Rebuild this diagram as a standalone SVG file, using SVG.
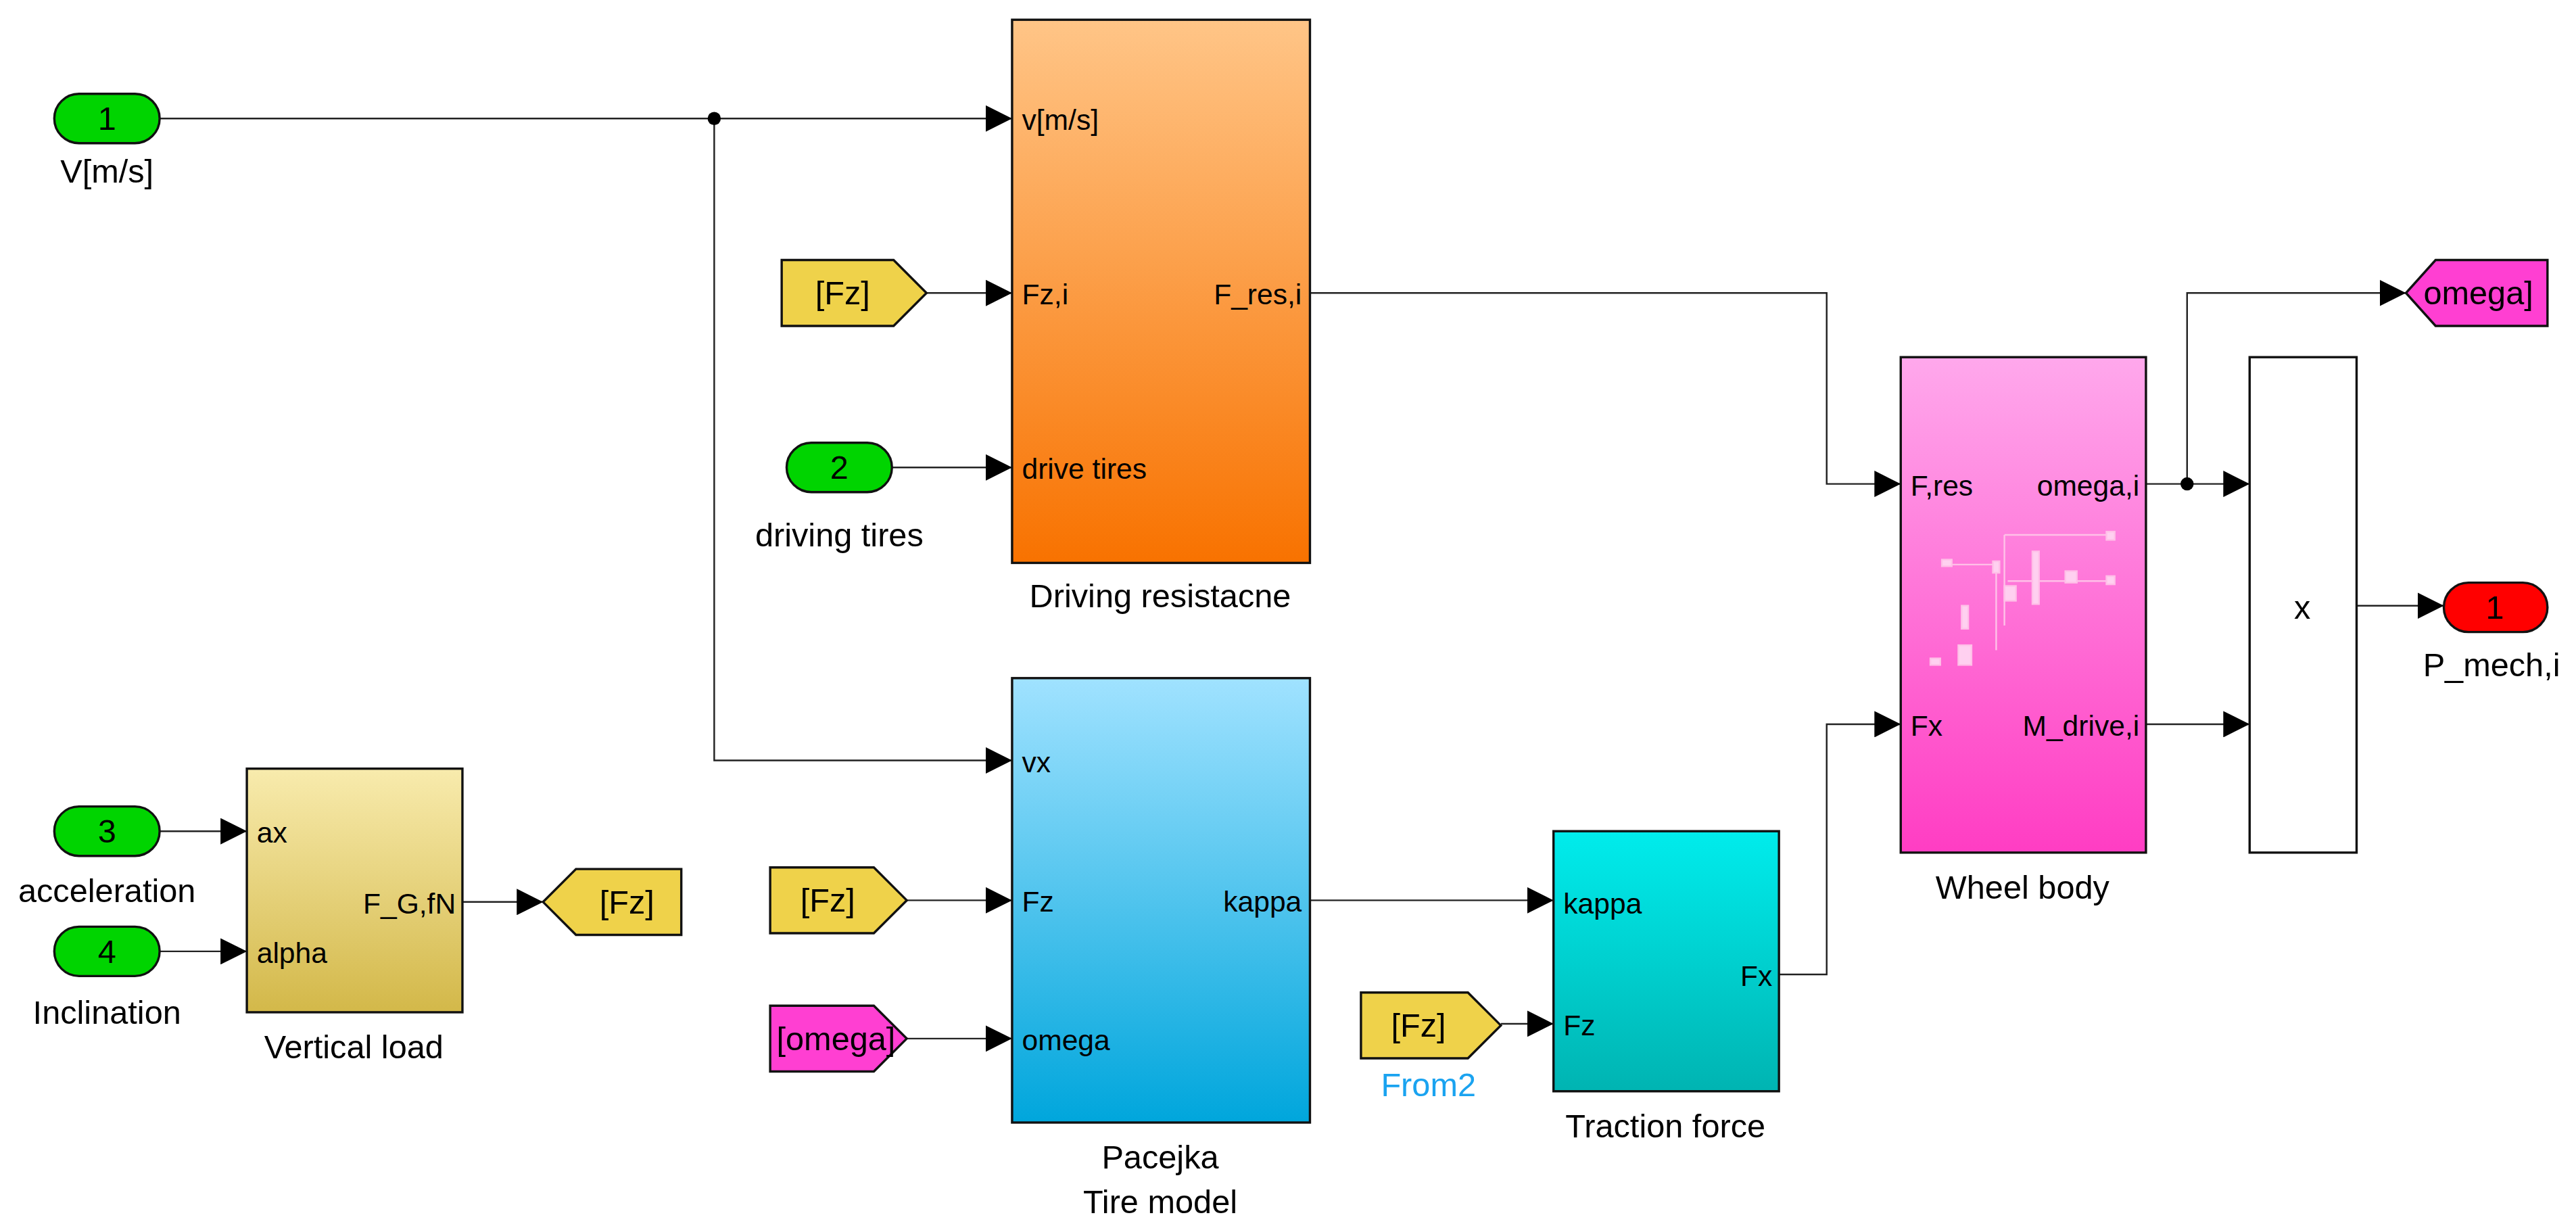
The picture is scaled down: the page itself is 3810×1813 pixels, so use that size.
<svg xmlns="http://www.w3.org/2000/svg" width="3810" height="1813" viewBox="0 0 3810 1813">
<defs>
<style>
text{font-family:"Liberation Sans",Arial,sans-serif;font-size:17.5px;fill:#000}
.n{font-size:20px}
.blk{stroke:#111;stroke-width:1.4}
.w{fill:none;stroke:#222;stroke-width:1}
.c{text-anchor:middle}
.e{text-anchor:end}
</style>
<marker id="ar" markerUnits="userSpaceOnUse" markerWidth="16" markerHeight="16" refX="16" refY="8" orient="auto"><path d="M0,0 L16,8 L0,16 Z" fill="#000"/></marker>
<linearGradient id="gO" x1="0" y1="0" x2="0" y2="1"><stop offset="0" stop-color="#FFC587"/><stop offset="1" stop-color="#F87200"/></linearGradient>
<linearGradient id="gB" x1="0" y1="0" x2="0" y2="1"><stop offset="0" stop-color="#A0E2FF"/><stop offset="1" stop-color="#00A6DC"/></linearGradient>
<linearGradient id="gY" x1="0" y1="0" x2="0" y2="1"><stop offset="0" stop-color="#F8EBAD"/><stop offset="1" stop-color="#D3B849"/></linearGradient>
<linearGradient id="gC" x1="0" y1="0" x2="0" y2="1"><stop offset="0" stop-color="#00ECEC"/><stop offset="1" stop-color="#00B4B2"/></linearGradient>
<linearGradient id="gP" x1="0" y1="0" x2="0" y2="1"><stop offset="0" stop-color="#FFA8EC"/><stop offset="1" stop-color="#FF3DC3"/></linearGradient>
</defs>
<rect width="3810" height="1813" fill="#fff"/>
<g transform="scale(2.434)">
<g id="connectors">
<path class="w" d="M97,72 H615" marker-end="url(#ar)"/>
<path class="w" d="M434,72 V462 H615" marker-end="url(#ar)"/>
<circle cx="434" cy="72" r="4" fill="#000"/>
<path class="w" d="M563,178 H615" marker-end="url(#ar)"/>
<path class="w" d="M542,284 H615" marker-end="url(#ar)"/>
<path class="w" d="M551,547 H615" marker-end="url(#ar)"/>
<path class="w" d="M551,631 H615" marker-end="url(#ar)"/>
<path class="w" d="M97,505 H150" marker-end="url(#ar)"/>
<path class="w" d="M97,578 H150" marker-end="url(#ar)"/>
<path class="w" d="M281,548 H330" marker-end="url(#ar)"/>
<path class="w" d="M796,547 H944" marker-end="url(#ar)"/>
<path class="w" d="M912,622 H944" marker-end="url(#ar)"/>
<path class="w" d="M796,178 H1110 V294 H1155" marker-end="url(#ar)"/>
<path class="w" d="M1081,592 H1110 V440 H1155" marker-end="url(#ar)"/>
<path class="w" d="M1304,294 H1367" marker-end="url(#ar)"/>
<path class="w" d="M1329,294 V178 H1462" marker-end="url(#ar)"/>
<circle cx="1329" cy="294" r="4" fill="#000"/>
<path class="w" d="M1304,440 H1367" marker-end="url(#ar)"/>
<path class="w" d="M1432,368 H1485" marker-end="url(#ar)"/>
</g>
<g id="in1"><rect class="blk" x="33" y="57" width="64" height="30" rx="15" fill="#00D400"/><text class="c n" x="65" y="79">1</text><text class="c n" x="65" y="111">V[m/s]</text></g>
<g id="in2"><rect class="blk" x="478" y="269" width="64" height="30" rx="15" fill="#00D400"/><text class="c n" x="510" y="291">2</text><text class="c n" x="510" y="332">driving tires</text></g>
<g id="in3"><rect class="blk" x="33" y="490" width="64" height="30" rx="15" fill="#00D400"/><text class="c n" x="65" y="512">3</text><text class="c n" x="65" y="548">acceleration</text></g>
<g id="in4"><rect class="blk" x="33" y="563" width="64" height="30" rx="15" fill="#00D400"/><text class="c n" x="65" y="585">4</text><text class="c n" x="65" y="622">Inclination</text></g>
<g id="fromFz1"><path class="blk" d="M475,158 H543 L563,178 L543,198 H475 Z" fill="#EFD24A"/><text class="c n" x="512" y="185">[Fz]</text></g>
<g id="fromFz2"><path class="blk" d="M468,527 H531 L551,547 L531,567 H468 Z" fill="#EFD24A"/><text class="c n" x="503" y="554">[Fz]</text></g>
<g id="fromOmega"><path class="blk" d="M468,611 H531 L551,631 L531,651 H468 Z" fill="#FF3FD2"/><text class="c n" x="508" y="638">[omega]</text></g>
<g id="gotoFz"><path class="blk" d="M350,528 H414 V568 H350 L330,548 Z" fill="#EFD24A"/><text class="c n" x="381" y="555">[Fz]</text></g>
<g id="from2"><path class="blk" d="M827,603 H892 L912,623 L892,643 H827 Z" fill="#EFD24A"/><text class="c n" x="862" y="630">[Fz]</text><text class="c n" x="868" y="666" style="fill:#1AA3F0">From2</text></g>
<g id="gotoOmega"><path class="blk" d="M1480,158 H1548 V198 H1480 L1462,178 Z" fill="#FF3FD2"/><text class="c n" x="1506" y="185">omega]</text></g>
<g id="drivingRes"><rect class="blk" x="615" y="12" width="181" height="330" fill="url(#gO)"/>
<text x="621" y="79">v[m/s]</text><text x="621" y="185">Fz,i</text><text x="621" y="291">drive tires</text><text class="e" x="791" y="185">F_res,i</text>
<text class="c n" x="705" y="369">Driving resistacne</text></g>
<g id="pacejka"><rect class="blk" x="615" y="412" width="181" height="270" fill="url(#gB)"/>
<text x="621" y="469">vx</text><text x="621" y="554">Fz</text><text x="621" y="638">omega</text><text class="e" x="791" y="554">kappa</text>
<text class="c n" x="705" y="710">Pacejka</text><text class="c n" x="705" y="737">Tire model</text></g>
<g id="vertLoad"><rect class="blk" x="150" y="467" width="131" height="148" fill="url(#gY)"/>
<text x="156" y="512">ax</text><text x="156" y="585">alpha</text><text class="e" x="277" y="555">F_G,fN</text>
<text class="c n" x="215" y="643">Vertical load</text></g>
<g id="traction"><rect class="blk" x="944" y="505" width="137" height="158" fill="url(#gC)"/>
<text x="950" y="555">kappa</text><text x="950" y="629">Fz</text><text class="e" x="1077" y="599">Fx</text>
<text class="c n" x="1012" y="691">Traction force</text></g>
<g id="wheel"><rect class="blk" x="1155" y="217" width="149" height="301" fill="url(#gP)"/>
<text x="1161" y="301">F,res</text><text class="e" x="1300" y="301">omega,i</text><text x="1161" y="447">Fx</text><text class="e" x="1300" y="447">M_drive,i</text>
<g fill="#FFD0F0" stroke="#FFC0E8" stroke-width="1"><path d="M1213,342 V395 M1218,325 H1282 M1218,325 V380 M1185,343 H1215 M1220,353 H1282" fill="none"/>
<rect x="1180" y="340" width="6" height="4"/><rect x="1211" y="341" width="4" height="7"/><rect x="1235" y="335" width="4" height="32"/><rect x="1218" y="356" width="7" height="9"/><rect x="1255" y="347" width="7" height="7"/><rect x="1280" y="350" width="5" height="5"/><rect x="1280" y="323" width="5" height="5"/><rect x="1192" y="368" width="4" height="14"/><rect x="1190" y="392" width="8" height="12"/><rect x="1173" y="400" width="6" height="4"/></g>
<text class="c n" x="1229" y="546">Wheel body</text></g>
<g id="product"><rect class="blk" x="1367" y="217" width="65" height="301" fill="#fff"/><text class="c n" x="1399" y="376">x</text></g>
<g id="out1"><rect class="blk" x="1485" y="354" width="63" height="30" rx="15" fill="#F00"/><text class="c n" x="1516" y="376">1</text><text class="c n" x="1514" y="411">P_mech,i</text></g>
</g>
</svg>
